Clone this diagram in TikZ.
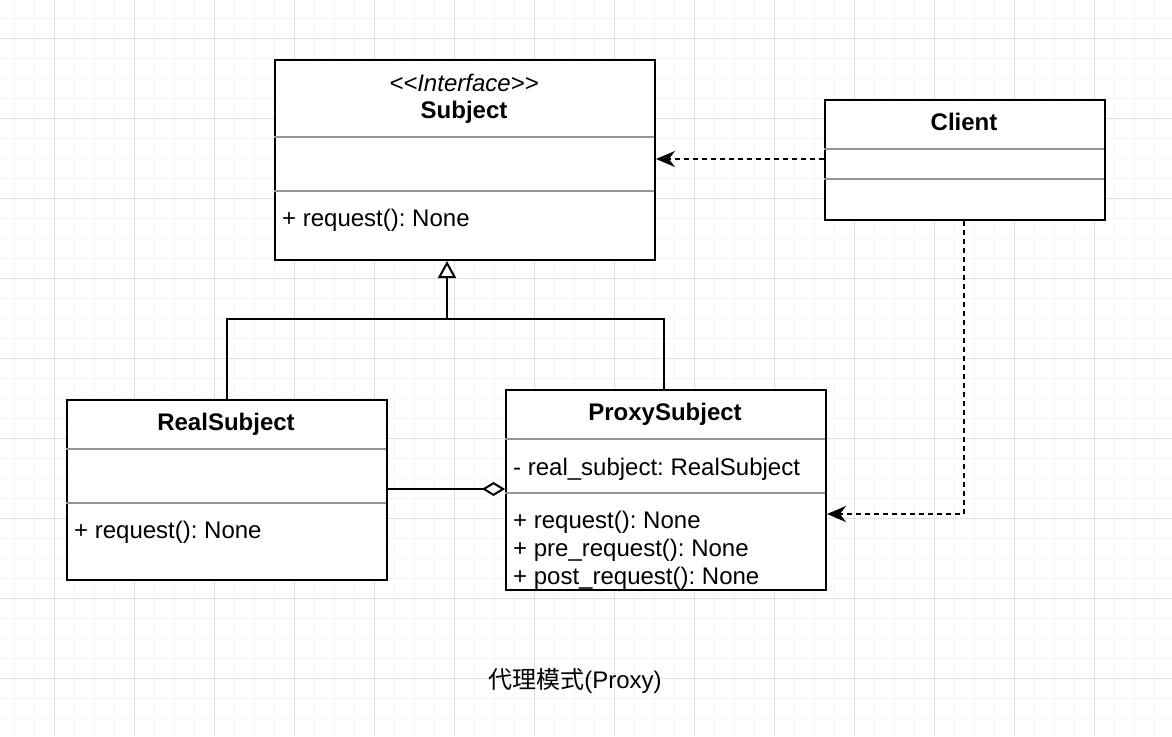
\documentclass[tikz,border=0pt]{standalone}
\usepackage{fontspec}
\setmainfont{Liberation Sans}[Ligatures=TeXOff]
\newfontfamily\cjk{Noto Sans CJK SC}
\usetikzlibrary{arrows.meta}
\frenchspacing
\begin{document}
\begin{tikzpicture}[x=1pt,y=-1pt,
  minorgrid/.style={draw=black!4, line width=1pt},
  majorgrid/.style={draw=black!12, line width=1pt},
  classbox/.style={draw=black, line width=2pt, fill=white, inner sep=0pt, anchor=north west},
  sepline/.style={draw=black!42, line width=2pt},
  txt/.style={font=\fontsize{24}{28}\selectfont, inner sep=0pt},
  ttl/.style={txt, font=\fontsize{24}{28}\selectfont\bfseries, anchor=base},
  member/.style={txt, anchor=base west},
  conn/.style={line width=2pt},
  dep/.style={conn, dash pattern=on 5pt off 4pt, -{Stealth[length=19pt,width=16pt,inset=6pt]}},
  inherit/.style={conn, -{Triangle[open, length=17pt, width=18pt, fill=white]}},
  aggr/.style={conn, {Diamond[open, length=23pt, width=14pt, fill=white]}-}
]
\useasboundingbox (0,0) rectangle (1172,736);
\fill[white] (0,0) rectangle (1172,736);
% grid
\foreach \x in {14,34,...,1174} \draw[minorgrid] (\x,0) -- (\x,736);
\foreach \y in {18,38,...,736} \draw[minorgrid] (0,\y) -- (1172,\y);
\foreach \x in {54,134,...,1174} \draw[majorgrid] (\x,0) -- (\x,736);
\foreach \y in {38,118,...,736} \draw[majorgrid] (0,\y) -- (1172,\y);

% Subject
\node[classbox, minimum width=380pt, minimum height=200pt] (subject) at (274,59) {};
\draw[sepline] (274,137) -- (654,137);
\draw[sepline] (274,191) -- (654,191);
\node[txt, anchor=base, font=\fontsize{24}{28}\selectfont\itshape] (subjster) at (464,91) {<<Interface>>};
\node[ttl] (subjname) at (464,118) {Subject};
\node[member] (subjm1) at (282,226) {+ request(): None};

% Client
\node[classbox, minimum width=280pt, minimum height=120pt] (client) at (824,99) {};
\draw[sepline] (824,149) -- (1104,149);
\draw[sepline] (824,179) -- (1104,179);
\node[ttl] (clientname) at (964,130) {Client};

% RealSubject
\node[classbox, minimum width=320pt, minimum height=180pt] (real) at (66,399) {};
\draw[sepline] (66,449) -- (386,449);
\draw[sepline] (66,503) -- (386,503);
\node[ttl] (realname) at (226,430) {RealSubject};
\node[member] (realm1) at (74,538) {+ request(): None};

% ProxySubject
\node[classbox, minimum width=320pt, minimum height=200pt] (proxy) at (505,389) {};
\draw[sepline] (505,439) -- (825,439);
\draw[sepline] (505,493) -- (825,493);
\node[ttl] (proxyname) at (665,420) {ProxySubject};
\node[member] (proxya1) at (513,475) {- real\_subject: RealSubject};
\node[member] (proxym1) at (513,528) {+ request(): None};
\node[member] (proxym2) at (513,556) {+ pre\_request(): None};
\node[member] (proxym3) at (513,584) {+ post\_request(): None};

% connectors
\coordinate (jn) at (447,319);
\draw[conn] (real.north -| 227,0) |- (jn);
\draw[conn] (proxy.north -| 664,0) |- (jn);
\draw[inherit] (jn) -- (subject.south -| jn);

\draw[aggr] (proxy.west |- 0,489) -- (real.east |- 0,489);

\draw[dep] (client.west |- 0,159) -- (subject.east |- 0,159);
\draw[dep] (client.south -| 964,0) |- (proxy.east |- 0,514);

% caption
\node[txt, anchor=base, font=\fontsize{24}{28}\selectfont] (caption) at (575,688) {{\cjk 代理模式}(Proxy)};
\end{tikzpicture}
\end{document}
